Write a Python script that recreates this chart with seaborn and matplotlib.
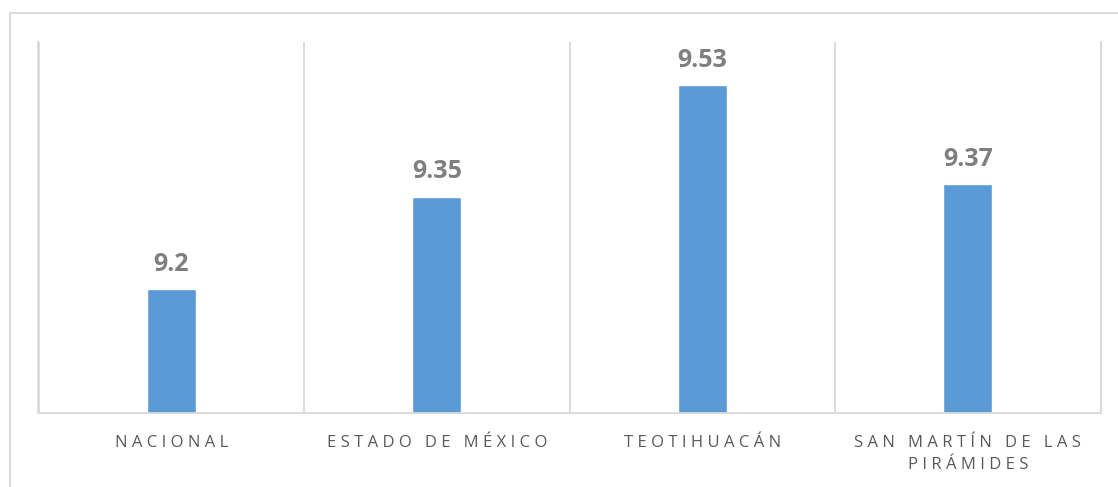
import matplotlib
matplotlib.use("Agg")
import matplotlib.pyplot as plt
import seaborn as sns
import pandas as pd
from matplotlib.patches import Rectangle

categories = ["NACIONAL", "ESTADO DE MÉXICO", "TEOTIHUACÁN", "SAN MARTÍN DE LAS\nPIRÁMIDES"]
values = [9.2, 9.35, 9.53, 9.37]

BAR_COLOR = "#5B9BD5"
GRID_COLOR = "#D9D9D9"
TICK_COLOR = "#595959"
LABEL_COLOR = "#7F7F7F"

sns.set_style("white")
plt.rcParams["font.family"] = ["Open Sans", "DejaVu Sans"]


def spaced(text):
    # widen letter spacing line by line
    return "\n".join(" ".join(line) for line in text.split("\n"))


df = pd.DataFrame({"categoria": categories, "valor": values})

fig = plt.figure(figsize=(11.18, 4.87), dpi=100)
ax = fig.add_axes([38.5 / 1118, 1 - 413 / 487, (1100.5 - 38.5) / 1118, (413 - 42) / 487])

# outer chart frame
fig.patches.append(Rectangle((9.5 / 1118, -0.1), 1.2, 1 - 12.5 / 487 + 0.1,
                             transform=fig.transFigure, fill=False,
                             edgecolor=GRID_COLOR, linewidth=1.3))

sns.barplot(data=df, x="categoria", y="valor", color=BAR_COLOR, width=0.183,
            saturation=1, ax=ax)

ax.set_ylim(9.0, 9.6)
ax.set_xlim(-0.5, len(categories) - 0.5)
ax.yaxis.set_visible(False)
ax.set_xlabel("")

ax.set_xticks(range(len(categories)))
ax.set_xticklabels([spaced(c) for c in categories], color=TICK_COLOR,
                   fontsize=12, linespacing=1.5)
ax.tick_params(axis="x", length=0, pad=16)

ax.set_xticks([i - 0.5 for i in range(len(categories) + 1)], minor=True)
ax.tick_params(axis="x", which="minor", length=0)
ax.grid(which="minor", axis="x", color=GRID_COLOR, linewidth=1.3)
ax.grid(which="major", visible=False)
ax.set_axisbelow(True)

ax.spines["top"].set_visible(False)
for side in ("left", "right", "bottom"):
    ax.spines[side].set_color(GRID_COLOR)
    ax.spines[side].set_linewidth(1.3)

ax.bar_label(ax.containers[0], labels=[f"{v:g}" for v in values], padding=9,
             fontsize=18, fontweight="bold", color=LABEL_COLOR)

fig.savefig("out.png", dpi=100)
